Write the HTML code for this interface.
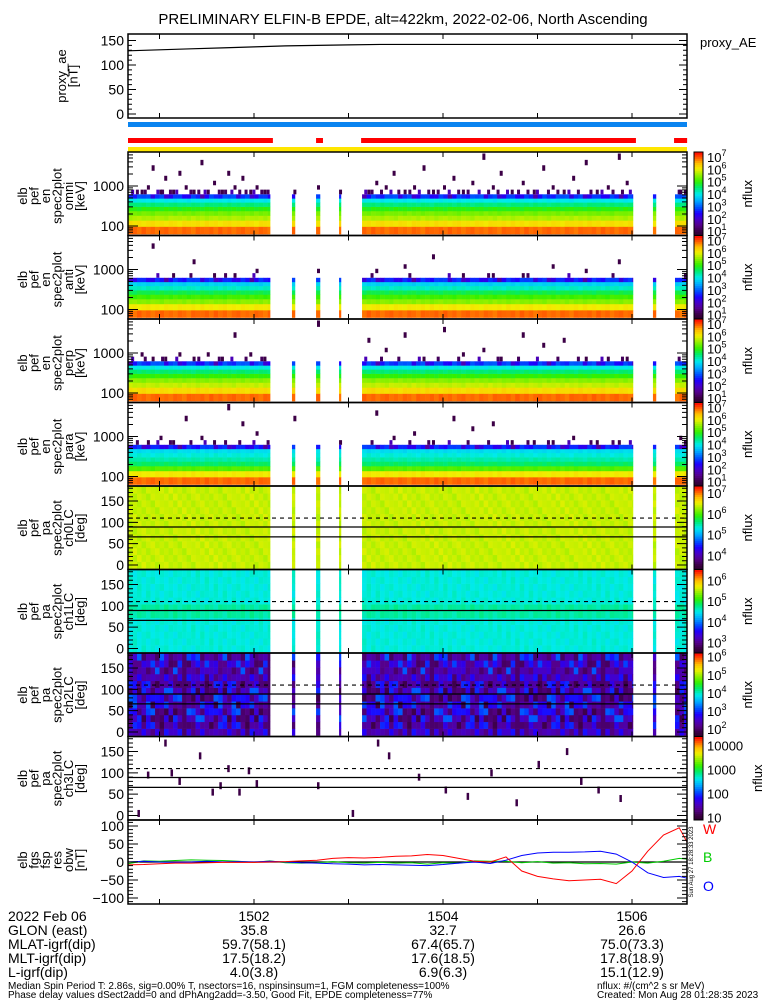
<!DOCTYPE html>
<html><head><meta charset="utf-8"><title>ELFIN-B EPDE</title>
<style>
html,body{margin:0;padding:0;background:#fff;}
svg{display:block;font-family:"Liberation Sans",sans-serif;}
text{fill:#000;}
</style></head>
<body>
<svg id="fig" xmlns="http://www.w3.org/2000/svg" width="775" height="1000" viewBox="0 0 775 1000">
<rect x="0" y="0" width="775" height="1000" fill="#fff"/>
<text x="403" y="24" font-size="15" text-anchor="middle">PRELIMINARY ELFIN-B EPDE, alt=422km, 2022-02-06, North Ascending</text>
<g id="cells"></g>
<g id="marks"></g>
<g id="axes"></g>
<g id="labels"></g>
<text x="8" y="921" font-size="14">2022 Feb 06</text>
<text x="8" y="935" font-size="14">GLON (east)</text>
<text x="8" y="949" font-size="14">MLAT-igrf(dip)</text>
<text x="8" y="963" font-size="14">MLT-igrf(dip)</text>
<text x="8" y="977" font-size="14">L-igrf(dip)</text>
<text x="8" y="989" font-size="10">Median Spin Period T: 2.86s, sig=0.00% T, nsectors=16, nspinsinsum=1, FGM completeness=100%</text>
<text x="8" y="1000" font-size="10" dy="-2">Phase delay values dSect2add=0 and dPhAng2add=-3.50, Good Fit, EPDE completeness=77%</text>
<text x="597" y="989" font-size="10">nflux: #/(cm^2 s sr MeV)</text>
<text x="597" y="1000" font-size="10" dy="-2">Created: Mon Aug 28 01:28:35 2023</text>
</svg>
<script>
// ---------- data ----------
const minuteTicks = [60, 120, 180, 240, 300, 360];
const tickLabelTimes = [120, 240, 360];
const tickLabels = ["1502", "1504", "1506"];
const glonVals = ["35.8", "32.7", "26.6"];
const mlatVals = ["59.7(58.1)", "67.4(65.7)", "75.0(73.3)"];
const mltVals = ["17.5(18.2)", "17.6(18.5)", "17.8(18.9)"];
const lVals = ["4.0(3.8)", "6.9(6.3)", "15.1(12.9)"];

const aeTimes = [40, 60, 80, 100, 120, 140, 160, 180, 200, 300, 395];
const aeVals = [129, 131, 133, 135, 137, 139, 140, 141, 142, 142, 142];

const fgsTimes = [40,50,60,70,80,90,100,110,120,130,140,150,160,170,180,190,200,210,220,230,240,250,260,270,280,290,300,310,320,330,340,350,360,370,380,390,395];
const fgsRed = [-8,-7,-5,-3,-3,-2,-1,-1,-1,0,1,3,5,10,12,11,13,16,17,21,18,10,2,0,14,-25,-40,-47,-52,-50,-48,-60,-25,30,75,95,55];
const fgsBlue = [0,2,0,-1,0,2,0,1,0,2,0,-2,-3,-5,-6,-8,-7,-8,-9,-10,-7,-3,0,-4,5,18,25,27,27,28,30,22,0,-30,-43,-40,-45];
const fgsGreen = [-5,3,2,4,6,5,4,2,-1,3,-2,-3,-2,1,-2,-3,-1,-3,-2,-6,-2,-3,3,2,2,-2,1,-3,-2,-5,-4,-6,0,-3,2,10,8];

const segStart = [40, 144.1, 159.4, 174.0, 188.6, 373.3, 387.3];
const segEnd = [130.2, 146.0, 161.9, 175.2, 360.6, 375.2, 395];
const redStart = [40, 159.4, 188, 386.7];
const redEnd = [132, 163.8, 362.5, 395];

const energyEdges = [63,97,138,183,238,305,390,491,620,811,1044,1353,1800,2400,3300,4500,6500];
const omniFlux = [6.9, 6.2, 5.7, 5.4, 4.95, 4.5, 4.0, 2.7];
const antiFlux = [6.9, 6.1, 5.5, 5.1, 4.7, 4.2, 3.8, 2.6];
const perpFlux = [6.9, 6.25, 5.8, 5.5, 5.0, 4.55, 4.05, 2.75];
const paraFlux = [6.9, 6.1, 5.2, 4.6, 4.3, 4.1, 3.9, 2.6];
const spinMod = [0,0.05,-0.04,0.08,-0.02,0.03,-0.06,0.02,0.06,-0.03,0.01,-0.05,0.04,0,-0.07,0.05,0.02];
const topBinMod = [0,-0.3,0.2,-0.1,0.15,-0.6,0.25,-0.05,-0.35,0.2,-0.9,0.1,0.25,-0.2,0.1,-0.45,0.2,-0.25,0.05];

const speckTimes = [48,52,55,60,63,68,72,76,81,86,90,94,99,103,107,112,117,121,126,145,160,174,192,197,203,208,215,221,227,233,240,246,252,258,265,271,276,283,290,297,303,309,316,322,330,337,344,351,356,390];
const speckBins = [8,9,13,8,11,8,12,9,8,14,8,10,8,12,9,11,8,9,8,8,9,8,8,10,9,12,8,9,13,8,9,11,8,10,15,9,12,8,10,8,13,9,8,11,14,8,9,15,10,8];
const row8Times = [42,45,50,58,61,66,70,79,84,88,97,101,105,110,114,119,124,128,190,194,200,206,211,218,224,230,236,243,249,255,262,268,274,280,287,293,299,306,312,319,325,333,340,347,353,358,389,393];

const ch0Flux = 6.4, ch1Flux = 4.55;
const ch2Mod = [2.5,2.1,2.9,2.4,2.0,3.1,2.6,2.2,2.8,1.9,2.4,3.0,2.3,2.7,2.05,2.55,3.2,2.35,2.15];
const ch3Times = [46,52,63,67,72,85,93,98,103,110,116,121,160,182,198,205,224,241,255,270,286,300,318,327,338,352];
const ch3Degs = [5,95,170,100,80,140,55,70,110,55,105,75,70,5,170,140,90,60,45,100,30,120,150,80,60,40];

// ---------- helpers ----------
const NS = "http://www.w3.org/2000/svg";
const X0 = 128, X1 = 687;
function xOf(t){ return 254 + (t - 120) * 1.575; }
function el(tag, attrs, parent){ const e = document.createElementNS(NS, tag); for (const k in attrs) e.setAttribute(k, attrs[k]); parent.appendChild(e); return e; }
const stops = [[0,40,0,40],[0.06,60,0,70],[0.13,85,0,140],[0.2,70,0,200],[0.27,30,0,255],[0.33,0,70,255],[0.42,0,170,255],[0.5,0,235,235],[0.58,0,235,110],[0.65,50,240,0],[0.73,150,240,0],[0.8,240,240,0],[0.87,255,190,0],[0.93,255,100,0],[1,255,0,0]];
function cmap(t){ t=Math.max(0,Math.min(1,t)); for(let i=1;i<stops.length;i++){ if(t<=stops[i][0]){ const a=stops[i-1], b=stops[i]; const f=(t-a[0])/(b[0]-a[0]); return "rgb("+Math.round(a[1]+f*(b[1]-a[1]))+","+Math.round(a[2]+f*(b[2]-a[2]))+","+Math.round(a[3]+f*(b[3]-a[3]))+")"; } } return "rgb(255,0,0)"; }
const cells = document.getElementById("cells");
const marks = document.getElementById("marks");
const axes = document.getElementById("axes");
const labels = document.getElementById("labels");
const spin = 2.86;

function leftLabel(lines, cy, x0){
  lines.forEach((s, i) => {
    const x = x0 + i * 11.5;
    const t = el("text", {x: x, y: cy, "font-size": 13, "text-anchor": "middle", transform: "rotate(-90 " + x + " " + cy + ")"}, labels);
    
    
    t.textContent = s;
  });
}
function frame(top, bot){
  const r = el("rect", {x: X0, y: top, width: X1 - X0, height: bot - top, fill: "none", stroke: "#000", "stroke-width": 1.5}, axes);
  
  
  minuteTicks.forEach(t => {
    const l = el("path", {d: "M" + xOf(t) + " " + bot + "v-5M" + xOf(t) + " " + top + "v5", stroke: "#000", "stroke-width": 1}, axes);
    
    
  });
}
function yTick(y, len, label){
  const l = el("path", {d: "M" + X0 + " " + y + "h" + len + "M" + X1 + " " + y + "h-" + len, stroke: "#000", "stroke-width": 1}, axes);
  
  
  if (label !== null){
    const t = el("text", {x: 124, y: y + 5, "font-size": 14, "text-anchor": "end"}, labels);
    
    
    t.textContent = label;
  }
}
function colorbar(top, bot, vmin, vmax, labs, title){
  const n = 40;
  for (let i = 0; i < n; i++){
    const r = el("rect", {x: 694, y: bot - (i + 1) * (bot - top) / n, width: 9, height: (bot - top) / n + 0.5, fill: cmap((i + 0.5) / n)}, cells);
    
    
  }
  const f = el("rect", {x: 694, y: top, width: 9, height: bot - top, fill: "none", stroke: "#000"}, axes);
  
  
  labs.forEach(lb => {
    const y = bot - (lb[0] - vmin) / (vmax - vmin) * (bot - top);
    const t = el("text", {x: 707, y: y + 5, "font-size": 13}, labels);
    
    
    if (lb[1]) { t.textContent = lb[1]; }
    else { t.textContent = "10"; const s = el("tspan", {dy: -6, "font-size": 9}, t); s.textContent = String(lb[0]); }
  });
  const cy = (top + bot) / 2, cx = title === "nflux4" ? 762 : 752;
  const tt = el("text", {x: cx, y: cy, "font-size": 13, "text-anchor": "middle", transform: "rotate(-90 " + cx + " " + cy + ")"}, labels);
  
  
  tt.textContent = "nflux";
}
function forEachSpin(fn){
  let k = 0;
  for (let s = 0; s < segStart.length; s++){
    for (let t = segStart[s]; t < segEnd[s] - 0.01; t += spin){
      const te = Math.min(t + spin, segEnd[s]);
      fn(t, te, k++);
    }
  }
}

// ---------- proxy AE ----------
const aeTop = 34, aeBot = 118;
function yAE(v){ return 114 - v * 0.49; }
frame(aeTop, aeBot);
[0, 50, 100, 150].forEach(v => yTick(yAE(v), 8, String(v)));
for (let v = 10; v < 160; v += 10) if (v % 50) yTick(yAE(v), 4, null);
const aeLine = el("polyline", {points: aeTimes.map((t, i) => xOf(t) + "," + yAE(aeVals[i])).join(" "), fill: "none", stroke: "#000", "stroke-width": 1.2}, marks);


leftLabel(["proxy_ae", "[nT]"], 76, 66);
const pae = el("text", {x: 700, y: 47, "font-size": 13}, labels);


pae.textContent = "proxy_AE";

// ---------- status bars ----------
const blueBar = el("rect", {x: X0, y: 122, width: X1 - X0, height: 5, fill: "#0a84f0"}, marks);


const yelBar = el("rect", {x: X0, y: 147, width: X1 - X0, height: 5, fill: "#ffe600"}, marks);


redStart.forEach((t, i) => {
  const r = el("rect", {x: xOf(t), y: 138, width: xOf(redEnd[i]) - xOf(t), height: 5, fill: "#ff0000"}, marks);
  
  
});

// ---------- energy spectrograms ----------
const eTops = [152, 235.5, 319, 402.5];
const eProfiles = [omniFlux, antiFlux, perpFlux, paraFlux];
const eNames = ["omni", "anti", "perp", "para"];
const speckStride = [1, 3, 2, 2];
const row8Stride = [1, 4, 2, 2];
const eVmin = 0.65, eVmax = 7.4;
function yE(E, top){ return top + 34 + (3 - Math.log10(E)) * 40; }
eTops.forEach((top, p) => {
  const bot = top + 83.5;
  const prof = eProfiles[p];
  forEachSpin((t, te, k) => {
    for (let b = 0; b < prof.length; b++){
      let v = prof[b] + spinMod[(k + b * 3 + p) % spinMod.length];
      if (b === prof.length - 1) v = prof[b] + topBinMod[(k * 3 + p * 5) % topBinMod.length];
      const y1 = yE(energyEdges[b + 1], top), y0 = yE(energyEdges[b], top);
      const r = el("rect", {x: xOf(t), y: y1, width: xOf(te) - xOf(t) + 0.3, height: y0 - y1 + 0.3, fill: cmap((v - eVmin) / (eVmax - eVmin))}, cells);
      
      
    }
  });
  row8Times.forEach((t, i) => {
    if ((i + p) % row8Stride[p]) return;
    const y1 = yE(energyEdges[9], top), y0 = yE(energyEdges[8], top);
    const r = el("rect", {x: xOf(t), y: y1, width: 3, height: y0 - y1, fill: cmap(i % 3 ? 0.08 : 0.18)}, cells);
    
    
  });
  speckTimes.forEach((t, i) => {
    if ((i + p) % speckStride[p]) return;
    const b = speckBins[(i + p * 7) % speckBins.length];
    const y1 = yE(energyEdges[b + 1], top), y0 = yE(energyEdges[b], top);
    const r = el("rect", {x: xOf(t), y: y1, width: 3, height: Math.min(y0 - y1, 7), fill: cmap(0.06)}, cells);
    
    
  });
  frame(top, bot);
  yTick(yE(100, top), 10, "100");
  yTick(yE(1000, top), 10, "1000");
  [70, 80, 90, 200, 300, 400, 500, 600, 700, 800, 900, 2000, 3000, 4000, 5000, 6000].forEach(E => { const y = yE(E, top); if (y > top && y < bot) yTick(y, 5, null); });
  leftLabel(["elb", "pef", "en", "spec2plot", eNames[p], "[keV]"], top + 44, 27);
  colorbar(top, bot, eVmin, eVmax, [[1],[2],[3],[4],[5],[6],[7]], "nflux");
});

// ---------- pitch-angle spectrograms ----------
const paTops = [486, 569.5, 653, 736.5];
const paNames = ["ch0LC", "ch1LC", "ch2LC", "ch3LC"];
const paVmin = [3.33, 2.5, 1.6, 0.9], paVmax = [7.34, 6.53, 6.2, 4.37];
function yPA(d, top){ return top + 79 - d * 0.4267; }
paTops.forEach((top, p) => {
  const bot = top + 83.5;
  if (p < 3){
    forEachSpin((t, te, k) => {
      for (let b = 0; b < 12; b++){
        const d0 = -8 + b * 16, d1 = d0 + 16;
        let v;
        if (p === 0) v = ch0Flux + spinMod[(k + b) % spinMod.length];
        else if (p === 1) v = ch1Flux + spinMod[(k + b * 2) % spinMod.length] + (b >= 5 && b <= 6 ? 0.15 : 0);
        else v = ch2Mod[(k * k * 3 + b * 7 + k * b) % ch2Mod.length];
        const r = el("rect", {x: xOf(t), y: yPA(d1, top), width: xOf(te) - xOf(t) + 0.3, height: 16 * 0.4267 + 0.3, fill: cmap((v - paVmin[p]) / (paVmax[p] - paVmin[p]))}, cells);
        
        
      }
    });
  } else {
    ch3Times.forEach((t, i) => {
      const r = el("rect", {x: xOf(t), y: yPA(ch3Degs[i] + 8, top), width: 2.5, height: 7, fill: cmap(0.06)}, cells);
      
      
    });
  }
  [[110, "4,4"], [89, ""], [66, ""]].forEach(ld => {
    const l = el("line", {x1: X0, x2: X1, y1: yPA(ld[0], top), y2: yPA(ld[0], top), stroke: "#000", "stroke-width": 1.2, "stroke-dasharray": ld[1]}, marks);
    
    
  });
  frame(top, bot);
  [0, 50, 100, 150].forEach(d => yTick(yPA(d, top), 10, String(d)));
  for (let d = 10; d <= 180; d += 10) if (d % 50) yTick(yPA(d, top), 5, null);
  leftLabel(["elb", "pef", "pa", "spec2plot", paNames[p], "[deg]"], top + 42, 27);
});
colorbar(486, 569.5, 3.33, 7.34, [[4],[5],[6],[7]], "nflux");
colorbar(569.5, 653, 2.5, 6.53, [[3],[4],[5],[6]], "nflux");
colorbar(653, 736.5, 1.6, 6.2, [[2],[3],[4],[5],[6]], "nflux");
colorbar(736.5, 820, 0.9, 4.37, [[1,"10"],[2,"100"],[3,"1000"],[4,"10000"]], "nflux4");

// ---------- FGS ----------
const fTop = 820, fBot = 904;
function yF(v){ return 862 - v * 0.36; }
const zero = el("line", {x1: X0, x2: X1, y1: yF(0), y2: yF(0), stroke: "#000", "stroke-width": 1.2}, marks);


[[fgsGreen, "#00cc00", "fgs-b-line"], [fgsBlue, "#0000ff", "fgs-o-line"], [fgsRed, "#ff0000", "fgs-w-line"]].forEach(s => {
  const pl = el("polyline", {points: fgsTimes.map((t, i) => xOf(t) + "," + yF(s[0][i])).join(" "), fill: "none", stroke: s[1], "stroke-width": 1}, marks);
  
  
});
frame(fTop, fBot);
[-100, -50, 0, 50, 100].forEach(v => yTick(yF(v), 10, String(v).replace("-", "−")));
for (let v = -110; v <= 110; v += 10) if (v % 50) yTick(yF(v), 5, null);
leftLabel(["elb", "fgs", "fsp", "res", "obw", "[nT]"], 860, 27);
[["W", "#ff0000", 834], ["B", "#00cc00", 862], ["O", "#0000ff", 891]].forEach(l => {
  const t = el("text", {x: 703, y: l[2], "font-size": 14, fill: l[1]}, labels);
  
  
  t.style.fill = l[1];
  t.textContent = l[0];
});
const stamp = el("text", {x: 693, y: 862, "font-size": 6, "text-anchor": "middle", transform: "rotate(-90 693 862)"}, labels);


stamp.textContent = "Sun Aug 27 18:28:33 2023";

// ---------- bottom annotations ----------
const rows = [[tickLabels, 921], [glonVals, 935], [mlatVals, 949], [mltVals, 963], [lVals, 977]];
rows.forEach(r => {
  r[0].forEach((s, i) => {
    const t = el("text", {x: xOf(tickLabelTimes[i]), y: r[1], "font-size": 14, "text-anchor": "middle"}, labels);
    
    
    t.textContent = s;
  });
});
</script>
</body></html>
